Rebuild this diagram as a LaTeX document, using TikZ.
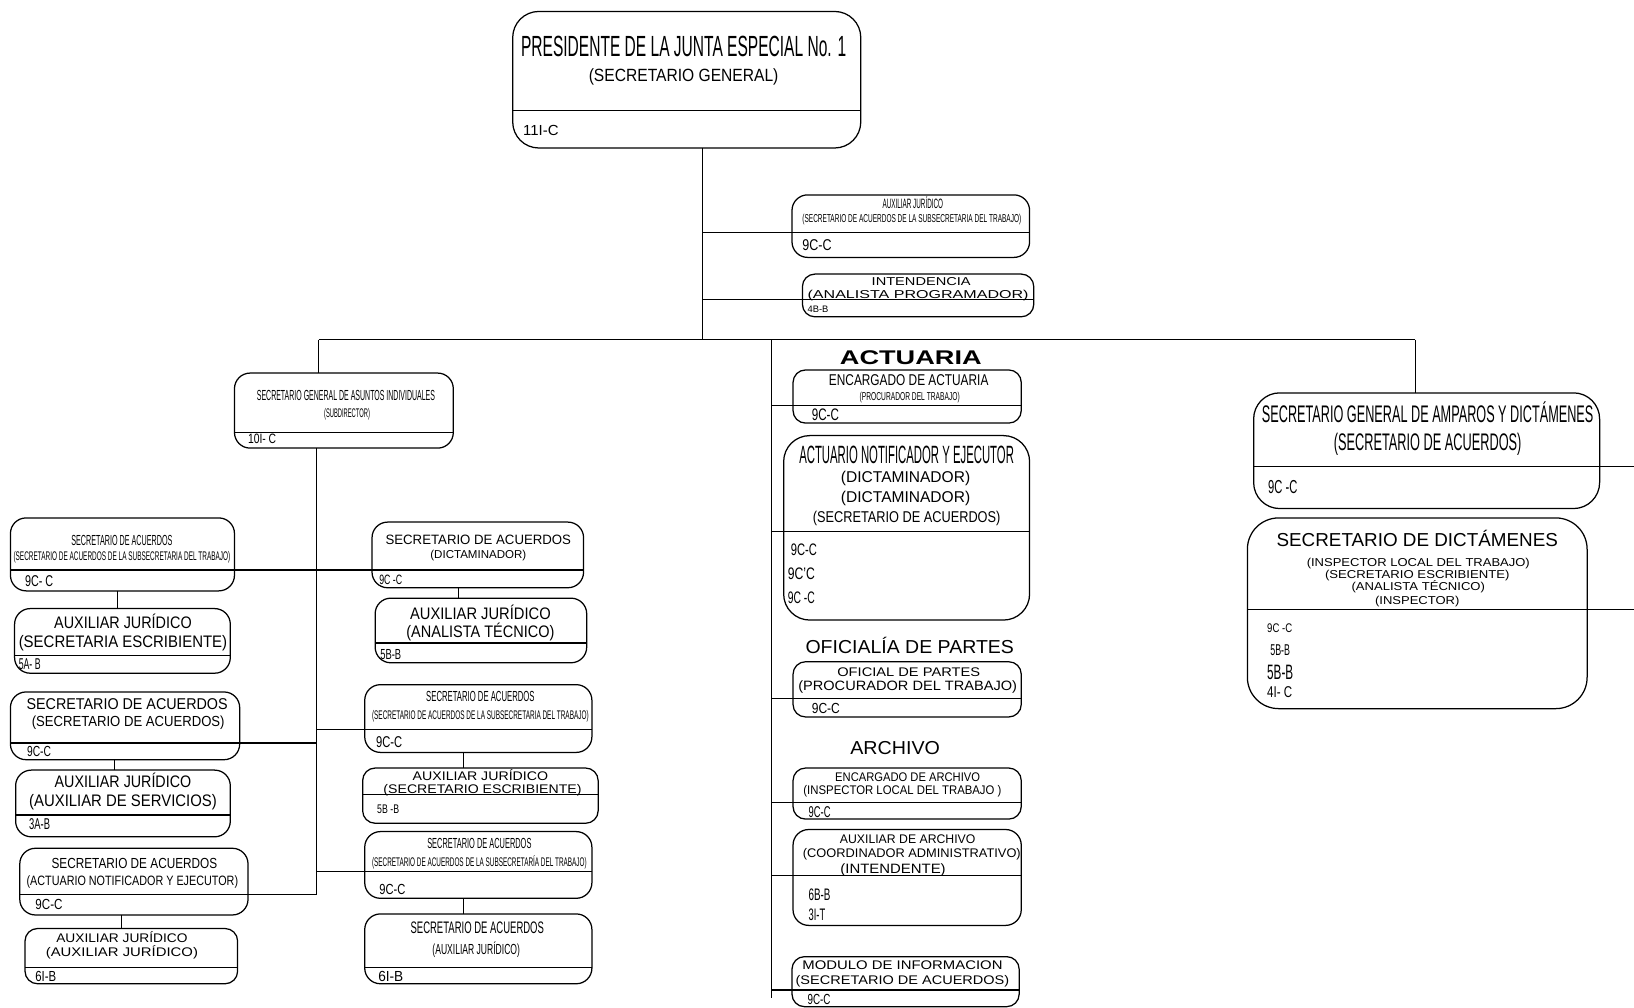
\documentclass[tikz,border=0pt]{standalone}
\usepackage{fontspec}
\usepackage{graphicx}
\setmainfont{Liberation Sans}
\usetikzlibrary{calc}
\newcommand\fitw[3]{\resizebox{#1pt}{\height}{\fontsize{#2pt}{#2pt}\selectfont #3}}
\newcounter{tn}
\newcommand\ct[5]{\stepcounter{tn}\node[txt,anchor=base] (t\arabic{tn}) at (#1,{#2+0.36*#4}) {\fitw{#3}{#4}{#5}};}
\newcommand\lt[5]{\stepcounter{tn}\node[txt,anchor=base west] (t\arabic{tn}) at (#1,{#2+0.36*#4}) {\fitw{#3}{#4}{#5}};}
\newcommand\ubox[7]{\node[ubox,rounded corners=#7pt,minimum width={#4-#2},minimum height={#5-#3}] (#1) at ({(#2+#4)/2},{(#3+#5)/2}) {};
\draw[ln] (#1.west |- 0,#6) -- (#1.east |- 0,#6);}
\tikzset{
  ln/.style={line width=1.1pt,black},
  ubox/.style={draw,line width=1.2pt,inner sep=0pt,outer sep=0pt},
  txt/.style={inner sep=0pt,outer sep=0pt,text=black}
}
\begin{document}
\begin{tikzpicture}[x=1pt,y=-1pt]
\fill[white] (0,0) rectangle (1568,967);
\useasboundingbox (0,0) rectangle (1568,967);
% ---------- boxes ----------
\ubox{T}{492}{11}{826}{142}{106}{25}
\ubox{A1}{760}{187}{988}{247}{223}{15}
\ubox{A2}{770}{263}{992}{304}{287}{12}
\ubox{S1}{225}{358}{435}{430}{415}{15}
\ubox{L1}{10}{497}{225}{567}{547}{15}
\ubox{L2}{14}{584}{221}{646}{629}{15}
\ubox{L3}{10}{664}{230}{729}{713}{15}
\ubox{L4}{15}{739}{221}{803}{782}{15}
\ubox{L5}{19}{814}{238}{878}{858}{15}
\ubox{L6}{24}{891}{228}{944}{928}{12}
\ubox{M1}{357}{501}{560}{564}{547}{15}
\ubox{M2}{360}{574}{563}{636}{617}{15}
\ubox{M3}{350}{657}{568}{722}{700}{15}
\ubox{M4}{348}{737}{574}{790}{762}{12}
\ubox{M5}{350}{798}{568}{862}{836}{15}
\ubox{M6}{350}{877}{568}{944}{928}{15}
\ubox{C1}{761}{355}{980}{406}{389}{12}
\ubox{C2}{752}{418}{988}{595}{510}{25}
\ubox{C3}{761}{635}{980}{688}{670}{12}
\ubox{C4}{761}{737}{980}{786}{770}{12}
\ubox{C5}{761}{796}{980}{888}{840}{15}
\ubox{C6}{760}{918}{978}{966}{950}{12}
\ubox{R1}{1203}{377}{1535}{488}{448}{25}
\ubox{R2}{1197}{497}{1523}{680}{585}{30}
% ---------- connectors ----------
\coordinate (s0) at (674,326);
\coordinate (bL) at (306,326);
\coordinate (bR) at (1358,326);
\coordinate (bA) at (740,326);
\coordinate (aEnd) at (740,958);
\coordinate (lEnd) at (304,858);
\coordinate (jA1) at (674,223);
\coordinate (jA2) at (674,287);
\coordinate (eR1) at (1568,448);
\coordinate (eR2) at (1568,585);
\draw[ln] (T.south -| s0) -- (s0);
\draw[ln] (bL) -- (bR);
\draw[ln] (jA1) -- (A1.west |- jA1);
\draw[ln] (jA2) -- (A2.west |- jA2);
\draw[ln] (bL) -- (bL |- S1.north);
\draw[ln] (bR) -- (bR |- R1.north);
\draw[ln] (R1.east |- eR1) -- (eR1);
\draw[ln] (R2.east |- eR2) -- (eR2);
\draw[ln] (bA) -- (aEnd);
\draw[ln] (bA |- 0,389) -- (C1.west |- 0,389);
\draw[ln] (bA |- 0,510) -- (C2.west |- 0,510);
\draw[ln] (bA |- 0,670) -- (C3.west |- 0,670);
\draw[ln] (bA |- 0,770) -- (C4.west |- 0,770);
\draw[ln] (bA |- 0,840) -- (C5.west |- 0,840);
\draw[ln] (bA |- 0,950) -- (C6.west |- 0,950);
\draw[ln] (S1.south -| lEnd) -- (lEnd);
\draw[ln] (L1.east |- 0,547) -- (M1.west |- 0,547);
\draw[ln] (L3.east |- 0,713) -- (lEnd |- 0,713);
\draw[ln] (lEnd |- 0,700) -- (M3.west |- 0,700);
\draw[ln] (lEnd |- 0,836) -- (M5.west |- 0,836);
\draw[ln] (L5.east |- lEnd) -- (lEnd);
\draw[ln] (L1.south -| 113,0) -- (L2.north -| 113,0);
\draw[ln] (L3.south -| 110,0) -- (L4.north -| 110,0);
\draw[ln] (L5.south -| 117,0) -- (L6.north -| 117,0);
\draw[ln] (M1.south -| 440,0) -- (M2.north -| 440,0);
\draw[ln] (M3.south -| 445,0) -- (M4.north -| 445,0);
\draw[ln] (M5.south -| 445,0) -- (M6.north -| 445,0);
% ---------- texts ----------
\ct{656}{44}{312}{28}{PRESIDENTE DE LA JUNTA ESPECIAL No. 1}
\ct{656}{72}{182}{17}{(SECRETARIO GENERAL)}
\lt{502}{125}{34}{14}{11I-C}
\ct{876}{195}{58}{13}{AUXILIAR JURÍDICO}
\ct{875}{210}{210}{11}{(SECRETARIO DE ACUERDOS DE LA SUBSECRETARIA DEL TRABAJO)}
\lt{770}{235}{28}{15}{9C-C}
\ct{884}{270}{95}{11}{INTENDENCIA}
\ct{881}{282}{212}{11}{(ANALISTA PROGRAMADOR)}
\lt{775}{297}{20}{9}{4B-B}
\ct{332}{379}{171}{14}{SECRETARIO GENERAL DE ASUNTOS INDIVIDUALES}
\ct{333}{396}{44}{12}{(SUBDIRECTOR)}
\lt{238}{421}{27}{13}{10I- C}
\ct{117}{518}{97}{14}{SECRETARIO DE ACUERDOS}
\ct{117}{534}{208}{12}{(SECRETARIO DE ACUERDOS DE LA SUBSECRETARIA DEL TRABAJO)}
\lt{24}{557}{27}{15}{9C- C}
\ct{118}{597}{132}{16}{AUXILIAR JURÍDICO}
\ct{118}{616}{200}{16}{(SECRETARIA ESCRIBIENTE)}
\lt{18}{637}{21}{15}{5A- B}
\ct{122}{675}{193}{15}{SECRETARIO DE ACUERDOS}
\ct{123}{692}{185}{14}{(SECRETARIO DE ACUERDOS)}
\lt{26}{721}{23}{14}{9C-C}
\ct{118}{750}{131}{16}{AUXILIAR JURÍDICO}
\ct{118}{768}{180}{16}{(AUXILIAR DE SERVICIOS)}
\lt{28}{791}{20}{15}{3A-B}
\ct{129}{828}{159}{14}{SECRETARIO DE ACUERDOS}
\ct{127}{845}{203}{13}{(ACTUARIO NOTIFICADOR Y EJECUTOR)}
\lt{34}{868}{26}{14}{9C-C}
\ct{117}{900}{126}{12}{AUXILIAR JURÍDICO}
\ct{117}{914}{146}{12}{(AUXILIAR JURÍDICO)}
\lt{34}{937}{20}{14}{6I-B}
\ct{459}{518}{178}{13}{SECRETARIO DE ACUERDOS}
\ct{459}{532}{92}{11}{(DICTAMINADOR)}
\lt{364}{556}{22}{13}{9C -C}
\ct{461}{589}{135}{16}{AUXILIAR JURÍDICO}
\ct{461}{606}{142}{16}{(ANALISTA TÉCNICO)}
\lt{365}{628}{20}{14}{5B-B}
\ct{461}{668}{104}{14}{SECRETARIO DE ACUERDOS}
\ct{461}{686}{208}{12}{(SECRETARIO DE ACUERDOS DE LA SUBSECRETARIA DEL TRABAJO)}
\lt{361}{712}{25}{15}{9C-C}
\ct{461}{745}{130}{12}{AUXILIAR JURÍDICO}
\ct{463}{757}{190}{12}{(SECRETARIO ESCRIBIENTE)}
\lt{362}{776}{21}{12}{5B -B}
\ct{460}{809}{100}{14}{SECRETARIO DE ACUERDOS}
\ct{460}{827}{206}{12}{(SECRETARIO DE ACUERDOS DE LA SUBSECRETARÍA DEL TRABAJO)}
\lt{364}{853}{25}{14}{9C-C}
\ct{458}{890}{128}{16}{SECRETARIO DE ACUERDOS}
\ct{457}{911}{84}{14}{(AUXILIAR JURÍDICO)}
\lt{363}{937}{24}{14}{6I-B}
\ct{874}{343}{136}{19}{\bfseries ACTUARIA}
\ct{872}{365}{153}{15}{ENCARGADO DE ACTUARIA}
\ct{873}{380}{96}{11}{(PROCURADOR DEL TRABAJO)}
\lt{779}{398}{26}{16}{9C-C}
\ct{870}{436}{206}{24}{ACTUARIO NOTIFICADOR Y EJECUTOR}
\ct{869}{458}{124}{15}{(DICTAMINADOR)}
\ct{869}{477}{124}{15}{(DICTAMINADOR)}
\ct{870}{496}{180}{15}{(SECRETARIO DE ACUERDOS)}
\lt{759}{527}{25}{16}{9C-C}
\lt{756}{550}{26}{16}{9C'C}
\lt{756}{573}{26}{16}{9C -C}
\ct{873}{621}{200}{18}{OFICIALÍA DE PARTES}
\ct{872}{645}{137}{12}{OFICIAL DE PARTES}
\ct{871}{658}{210}{13}{(PROCURADOR DEL TRABAJO)}
\lt{779}{680}{27}{14}{9C-C}
\ct{859}{718}{86}{18}{ARCHIVO}
\ct{871}{746}{139}{12}{ENCARGADO DE ARCHIVO}
\ct{866}{758}{190}{12}{(INSPECTOR LOCAL DEL TRABAJO )}
\lt{776}{779}{21}{15}{9C-C}
\ct{871}{805}{130}{12}{AUXILIAR DE ARCHIVO}
\ct{875}{819}{209}{12}{(COORDINADOR ADMINISTRATIVO)}
\ct{857}{834}{101}{13}{(INTENDENTE)}
\lt{776}{858}{21}{16}{6B-B}
\lt{776}{878}{16}{16}{3I-T}
\ct{866}{926}{192}{12}{MODULO DE INFORMACION}
\ct{866}{940}{205}{12}{(SECRETARIO DE ACUERDOS)}
\lt{775}{959}{22}{14}{9C-C}
\ct{1370}{397}{318}{23}{SECRETARIO GENERAL DE AMPAROS Y DICTÁMENES}
\ct{1370}{424}{180}{23}{(SECRETARIO DE ACUERDOS)}
\lt{1217}{467}{28}{18}{9C -C}
\ct{1360}{518}{270}{18}{SECRETARIO DE DICTÁMENES}
\ct{1361}{540}{214}{11}{(INSPECTOR LOCAL DEL TRABAJO)}
\ct{1360}{551}{177}{11}{(SECRETARIO ESCRIBIENTE)}
\ct{1361}{563}{128}{11}{(ANALISTA TÉCNICO)}
\ct{1360}{576}{81}{11}{(INSPECTOR)}
\lt{1216}{603}{24}{12}{9C -C}
\lt{1219}{624}{19}{15}{5B-B}
\lt{1216}{645}{25}{20}{5B-B}
\lt{1216}{664}{24}{15}{4I- C}
\end{tikzpicture}
\end{document}
